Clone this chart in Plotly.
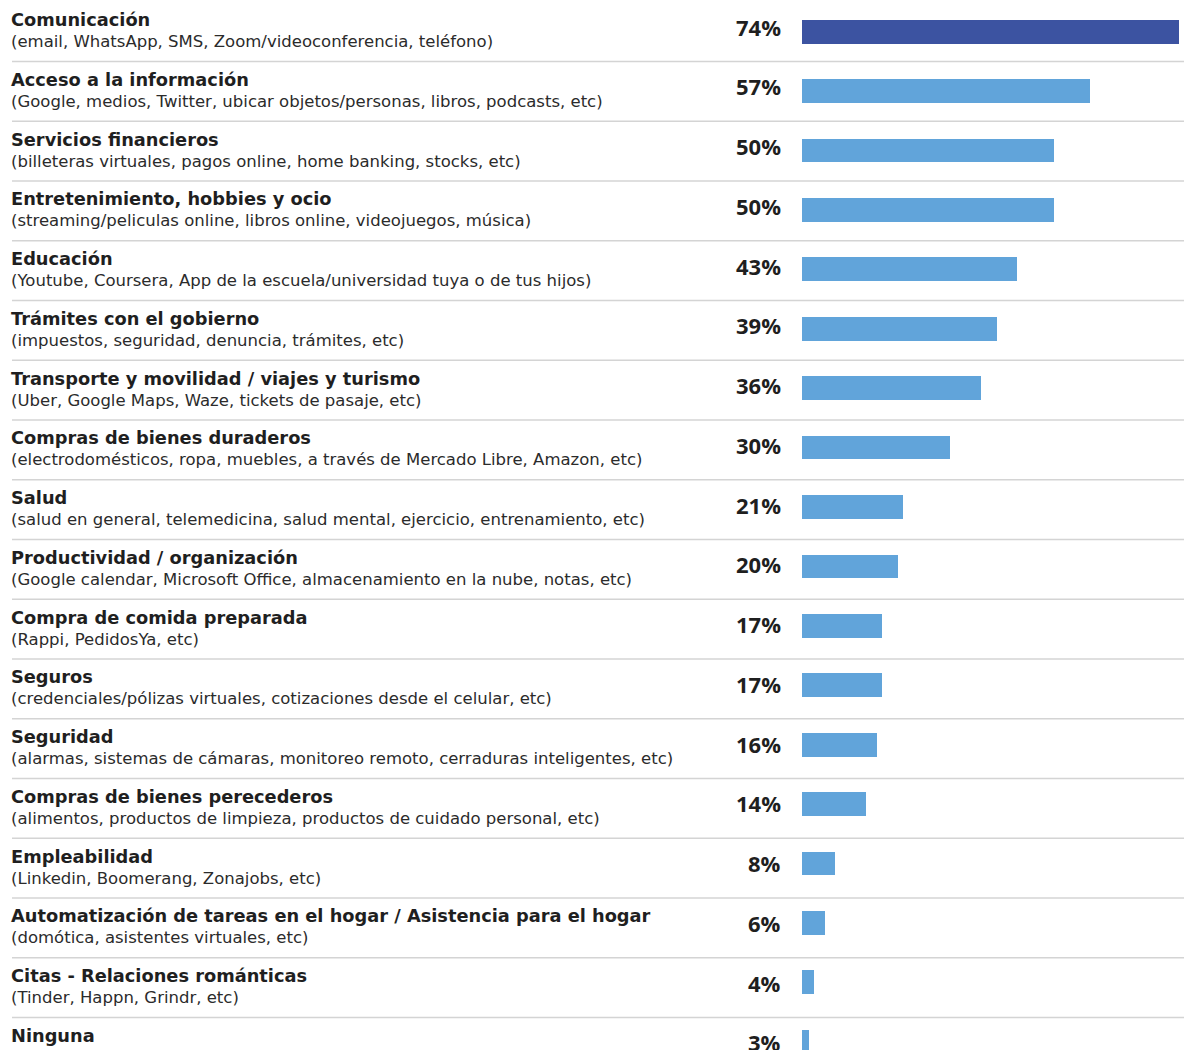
import plotly.graph_objects as go

categories = [
    "Comunicación",
    "Acceso a la información",
    "Servicios financieros",
    "Entretenimiento, hobbies y ocio",
    "Educación",
    "Trámites con el gobierno",
    "Transporte y movilidad / viajes y turismo",
    "Compras de bienes duraderos",
    "Salud",
    "Productividad / organización",
    "Compra de comida preparada",
    "Seguros",
    "Seguridad",
    "Compras de bienes perecederos",
    "Empleabilidad",
    "Automatización de tareas en el hogar / Asistencia para el hogar",
    "Citas - Relaciones románticas",
    "Ninguna",
]

descriptions = [
    "(email, WhatsApp, SMS, Zoom/videoconferencia, teléfono)",
    "(Google, medios, Twitter, ubicar objetos/personas, libros, podcasts, etc)",
    "(billeteras virtuales, pagos online, home banking, stocks, etc)",
    "(streaming/peliculas online, libros online, videojuegos, música)",
    "(Youtube, Coursera, App de la escuela/universidad tuya o de tus hijos)",
    "(impuestos, seguridad, denuncia, trámites, etc)",
    "(Uber, Google Maps, Waze, tickets de pasaje, etc)",
    "(electrodomésticos, ropa, muebles, a través de Mercado Libre, Amazon, etc)",
    "(salud en general, telemedicina, salud mental, ejercicio, entrenamiento, etc)",
    "(Google calendar, Microsoft Office, almacenamiento en la nube, notas, etc)",
    "(Rappi, PedidosYa, etc)",
    "(credenciales/pólizas virtuales, cotizaciones desde el celular, etc)",
    "(alarmas, sistemas de cámaras, monitoreo remoto, cerraduras inteligentes, etc)",
    "(alimentos, productos de limpieza, productos de cuidado personal, etc)",
    "(Linkedin, Boomerang, Zonajobs, etc)",
    "(domótica, asistentes virtuales, etc)",
    "(Tinder, Happn, Grindr, etc)",
    "",
]

values = [74, 57, 50, 50, 43, 39, 36, 30, 21, 20, 17, 17, 16, 14, 8, 6, 4, 3]

DARK_BLUE = "#3C53A1"
LIGHT_BLUE = "#61A4DA"
TEXT = "#1f1f1f"
LABEL_FONT = "DejaVu Sans"
PCT_FONT = "Open Sans"
BAR_START = 1.65  # bars begin a little right of the scale's zero

W, H = 1184, 1050

rows = list(range(len(categories)))
colors = [DARK_BLUE] + [LIGHT_BLUE] * (len(values) - 1)

fig = go.Figure()
fig.add_trace(
    go.Bar(
        x=[v - BAR_START for v in values],
        y=rows,
        orientation="h",
        base=BAR_START,
        width=0.4,
        marker=dict(color=colors, line=dict(width=0)),
        hoverinfo="skip",
    )
)
# text rows sit on a slightly looser grid than the bars
fig.add_trace(go.Scatter(x=[], y=[], yaxis="y2", hoverinfo="skip"))

annotations = []
for i, (cat, desc, val) in enumerate(zip(categories, descriptions, values)):
    annotations.append(
        dict(
            x=9 / W, xref="paper", y=i, yref="y2",
            text=f"<b>{cat}</b>", showarrow=False,
            xanchor="left", yanchor="middle", yshift=12,
            font=dict(family=LABEL_FONT, size=17.8, color=TEXT),
        )
    )
    if desc:
        annotations.append(
            dict(
                x=9 / W, xref="paper", y=i, yref="y2",
                text=desc, showarrow=False,
                xanchor="left", yanchor="middle", yshift=-10,
                font=dict(family=LABEL_FONT, size=16.5, color="#2b2b2b"),
            )
        )
    annotations.append(
        dict(
            x=0, xref="x", y=i, yref="y2",
            text=f"<b>{val}%</b>", showarrow=False,
            xanchor="right", yanchor="middle", xshift=-10, yshift=5,
            font=dict(family=PCT_FONT, size=22, color=TEXT),
        )
    )

shapes = []
for i in rows[:-1]:
    shapes.append(
        dict(
            type="line", xref="paper", yref="y2",
            x0=12 / W, x1=1, y0=i + 0.5, y1=i + 0.5,
            line=dict(color="#d4d4d4", width=1.5),
            layer="below",
        )
    )

fig.update_layout(
    width=W,
    height=H,
    margin=dict(l=0, r=0, t=0, b=0),
    paper_bgcolor="white",
    plot_bgcolor="white",
    showlegend=False,
    annotations=annotations,
    shapes=shapes,
    xaxis=dict(range=[-152.29, 74.97], visible=False, fixedrange=True),
    yaxis=dict(range=[17.14, -0.5336], visible=False, fixedrange=True),
    yaxis2=dict(
        range=[17.044, -0.5289], overlaying="y", visible=False, fixedrange=True
    ),
    bargap=0,
)

fig.write_html(
    "out.html",
    config={"displayModeBar": False},
    post_script="document.body.style.margin = '0'; document.body.style.overflow = 'hidden';",
)
